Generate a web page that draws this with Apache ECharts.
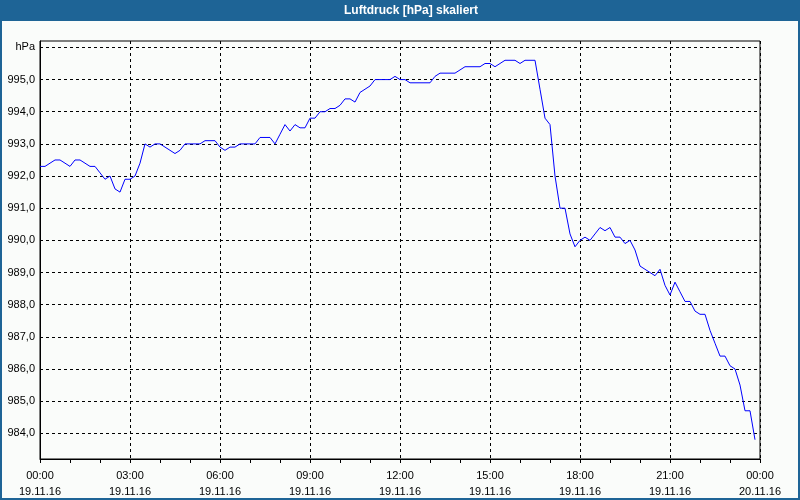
<!DOCTYPE html>
<html>
<head>
<meta charset="utf-8">
<script src="https://cdn.jsdelivr.net/npm/echarts@6/dist/echarts.min.js"></script>
<style>
html,body{margin:0;padding:0;background:#fafcfa;}
#chart{width:800px;height:500px;}
</style>
</head>
<body>
<div id="chart"></div>
<script>
// Data (10-minute readings, 19.11.16)
var times = [
"00:00","00:10","00:20","00:30","00:40","00:50","01:00","01:10","01:20","01:30","01:40","01:50",
"02:00","02:10","02:20","02:30","02:40","02:50","03:00","03:10","03:20","03:30","03:40","03:50",
"04:00","04:10","04:20","04:30","04:40","04:50","05:00","05:10","05:20","05:30","05:40","05:50",
"06:00","06:10","06:20","06:30","06:40","06:50","07:00","07:10","07:20","07:30","07:40","07:50",
"08:00","08:10","08:20","08:30","08:40","08:50","09:00","09:10","09:20","09:30","09:40","09:50",
"10:00","10:10","10:20","10:30","10:40","10:50","11:00","11:10","11:20","11:30","11:40","11:50",
"12:00","12:10","12:20","12:30","12:40","12:50","13:00","13:10","13:20","13:30","13:40","13:50",
"14:00","14:10","14:20","14:30","14:40","14:50","15:00","15:10","15:20","15:30","15:40","15:50",
"16:00","16:10","16:20","16:30","16:40","16:50","17:00","17:10","17:20","17:30","17:40","17:50",
"18:00","18:10","18:20","18:30","18:40","18:50","19:00","19:10","19:20","19:30","19:40","19:50",
"20:00","20:10","20:20","20:30","20:40","20:50","21:00","21:10","21:20","21:30","21:40","21:50",
"22:00","22:10","22:20","22:30","22:40","22:50","23:00","23:10","23:20","23:30","23:40","23:50"
];
var pressure = [
992.3,992.3,992.4,992.5,992.5,992.4,992.3,992.5,992.5,992.4,992.3,992.3,
992.1,991.9,992.0,991.6,991.5,991.9,991.9,992.0,992.4,993.0,992.9,993.0,
993.0,992.9,992.8,992.7,992.8,993.0,993.0,993.0,993.0,993.1,993.1,993.1,
992.9,992.8,992.9,992.9,993.0,993.0,993.0,993.0,993.2,993.2,993.2,993.0,
993.3,993.6,993.4,993.6,993.5,993.5,993.8,993.8,994.0,994.0,994.1,994.1,
994.2,994.4,994.4,994.3,994.6,994.7,994.8,995.0,995.0,995.0,995.0,995.1,
995.0,995.0,994.9,994.9,994.9,994.9,994.9,995.1,995.2,995.2,995.2,995.2,
995.3,995.4,995.4,995.4,995.4,995.5,995.5,995.4,995.5,995.6,995.6,995.6,
995.5,995.6,995.6,995.6,994.7,993.8,993.6,992.0,991.0,991.0,990.2,989.8,
990.0,990.1,990.0,990.2,990.4,990.3,990.4,990.1,990.1,989.9,990.0,989.7,
989.2,989.1,989.0,988.9,989.1,988.6,988.3,988.7,988.4,988.1,988.1,987.8,
987.7,987.7,987.2,986.8,986.4,986.4,986.1,986.0,985.5,984.7,984.7,983.8
];
var xTickLabels = [
"00:00\n19.11.16","03:00\n19.11.16","06:00\n19.11.16","09:00\n19.11.16","12:00\n19.11.16",
"15:00\n19.11.16","18:00\n19.11.16","21:00\n19.11.16","00:00\n20.11.16"
];
var yTickValues = [984,985,986,987,988,989,990,991,992,993,994,995,996];
var yUnitLabel = "hPa";
var titleText = "Luftdruck [hPa] skaliert";

function toHours(s){ var p = s.split(":"); return +p[0] + (+p[1])/60; }
var seriesData = times.map(function(t,i){ return [toHours(t), pressure[i]]; });

var FONT = "Liberation Sans";
var chart = echarts.init(document.getElementById('chart'), null, {renderer:'canvas'});
chart.setOption({
  animation: false,
  backgroundColor: '#fafcfa',
  textStyle: {fontFamily: FONT},
  graphic: [
    {type:'rect', shape:{x:1, y:1, width:798, height:498}, style:{fill:'none', stroke:'#1e6496', lineWidth:2}, z:100},
    {type:'rect', shape:{x:0, y:0, width:800, height:21}, style:{fill:'#1e6496'}, z:101},
    {type:'text', x:411, y:11, style:{text:titleText, fill:'#ffffff', font:'bold 12px "Liberation Sans"', textAlign:'center', textVerticalAlign:'middle'}, z:102}
  ],
  grid: {left:40, right:40, top:41, bottom:40, show:true, borderColor:'#000', borderWidth:1, backgroundColor:'transparent'},
  xAxis: {
    type:'value', min:0, max:24, interval:3,
    axisLine:{show:true, lineStyle:{color:'#000', width:1}},
    axisTick:{show:true, length:4, lineStyle:{color:'#000'}},
    minorTick:{show:true, splitNumber:3, length:4, lineStyle:{color:'#000'}},
    splitLine:{show:true, lineStyle:{color:'#000', type:[3,3], width:1}},
    axisLabel:{color:'#000', fontSize:11, fontFamily:FONT, lineHeight:16, margin:9,
      formatter:function(v){ var i = Math.round(v/3); return xTickLabels[i] || ''; }}
  },
  yAxis: {
    type:'value', min:983.2, max:996.2,
    axisLine:{show:true, lineStyle:{color:'#000', width:1}},
    axisTick:{show:false, customValues:yTickValues},
    splitLine:{show:true, lineStyle:{color:'#000', type:[3,3], width:1}},
    axisLabel:{color:'#000', fontSize:11, fontFamily:FONT, margin:5, customValues:yTickValues,
      formatter:function(v){ if (Math.abs(v-996)<0.01) return yUnitLabel; return v.toFixed(1).replace('.', ','); }}
  },
  series: [{
    type:'line', data:seriesData, showSymbol:false, symbol:'none',
    lineStyle:{color:'#0000ff', width:1}, itemStyle:{color:'#0000ff'}
  }]
});
</script>
</body>
</html>
